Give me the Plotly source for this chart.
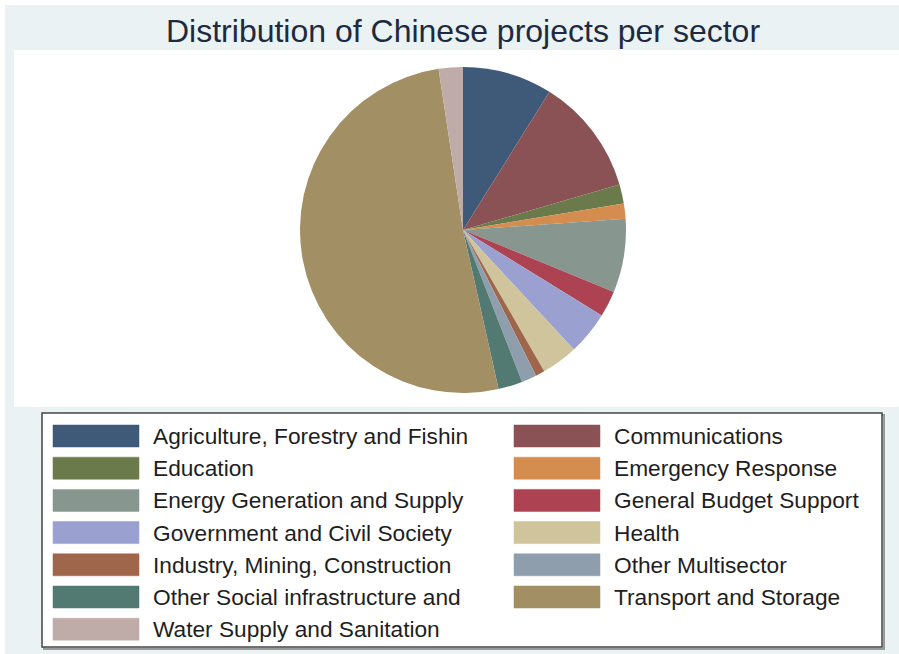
import plotly.graph_objects as go

W, H = 899, 654

# Sector shares (percent of projects), clockwise from 12 o'clock
sectors = [
    "Agriculture, Forestry and Fishin",
    "Communications",
    "Education",
    "Emergency Response",
    "Energy Generation and Supply",
    "General Budget Support",
    "Government and Civil Society",
    "Health",
    "Industry, Mining, Construction",
    "Other Multisector",
    "Other Social infrastructure and",
    "Transport and Storage",
    "Water Supply and Sanitation",
]
shares = [8.9, 11.6, 1.9, 1.5, 7.3, 2.6, 4.3, 3.6, 0.9, 1.5, 2.4, 51.1, 2.4]
colors = [
    "#3e5a78", "#8a5254", "#6b7a4b", "#d58c4f", "#879790", "#ad4352",
    "#9aa0cf", "#cfc49b", "#9f664b", "#8e9ead", "#537a72", "#a28f63",
    "#bfaba7",
]

def px_x(x):
    return x / W

def px_y(y):
    return 1 - y / H

# Pie geometry (pixels)
cx, cy, r = 463, 230, 163

fig = go.Figure(go.Pie(
    labels=sectors,
    values=shares,
    sort=False,
    direction="clockwise",
    rotation=0,
    marker=dict(colors=colors, line=dict(width=0)),
    textinfo="none",
    hoverinfo="label+percent",
    showlegend=False,
    domain=dict(x=[px_x(cx - r), px_x(cx + r)], y=[px_y(cy + r), px_y(cy - r)]),
))

shapes = [
    # graph region background
    dict(type="rect", xref="paper", yref="paper", x0=px_x(5), x1=1, y0=0, y1=px_y(5),
         fillcolor="#eaf2f3", line=dict(width=0), layer="below"),
    # plot region
    dict(type="rect", xref="paper", yref="paper", x0=px_x(14), x1=1, y0=px_y(407), y1=px_y(50),
         fillcolor="white", line=dict(width=0), layer="below"),
    # legend box shadow and frame
    dict(type="rect", xref="paper", yref="paper", x0=px_x(44), x1=px_x(884), y0=px_y(649), y1=px_y(415),
         fillcolor="rgba(0,0,0,0)", line=dict(color="#9a9a9a", width=2), layer="below"),
    dict(type="rect", xref="paper", yref="paper", x0=px_x(42), x1=px_x(882), y0=px_y(647), y1=px_y(413),
         fillcolor="white", line=dict(color="#444444", width=1.5), layer="below"),
]

annotations = [
    dict(text="Distribution of Chinese projects per sector", xref="paper", yref="paper",
         x=px_x(463), y=px_y(31), xanchor="center", yanchor="middle", showarrow=False,
         font=dict(family="Liberation Sans, Arial", size=32, color="#1e2a3f")),
]

# Two-column legend, filled row by row
row0, row_step = 436, 32.2
col_sw = [53, 514]
sw_w, sw_h = 86, 22
for i, (name, col) in enumerate(zip(sectors, colors)):
    row, c = divmod(i, 2)
    yc = row0 + row * row_step
    x0 = col_sw[c]
    shapes.append(dict(type="rect", xref="paper", yref="paper",
                       x0=px_x(x0), x1=px_x(x0 + sw_w),
                       y0=px_y(yc + sw_h / 2), y1=px_y(yc - sw_h / 2),
                       fillcolor=col, line=dict(color=col, width=0.5)))
    annotations.append(dict(text=name, xref="paper", yref="paper",
                            x=px_x(x0 + sw_w + 12), y=px_y(yc), xanchor="left", yanchor="middle",
                            showarrow=False,
                            font=dict(family="Liberation Sans, Arial", size=22.7, color="#1e1e1e")))

fig.update_layout(
    width=W, height=H,
    margin=dict(l=0, r=0, t=0, b=0),
    paper_bgcolor="white",
    shapes=shapes,
    annotations=annotations,
)

fig.write_html("out.html")
